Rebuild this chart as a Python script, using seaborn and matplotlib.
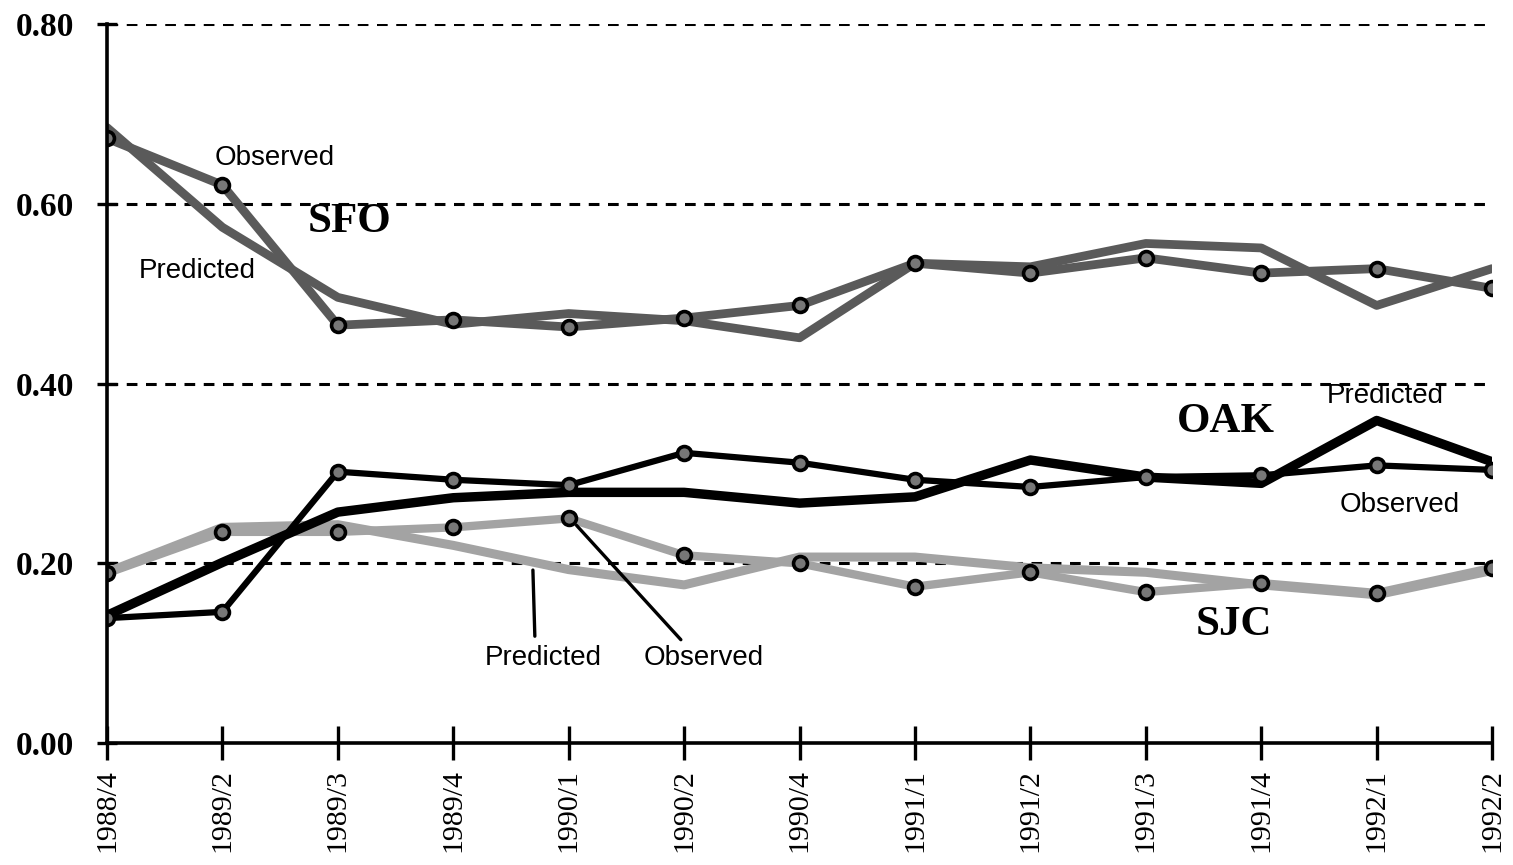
import matplotlib
matplotlib.use("Agg")
import matplotlib.pyplot as plt
import numpy as np
import pandas as pd
import seaborn as sns

# ---------------------------
# Datos
# ---------------------------
trimestres = ["1988/4", "1989/2", "1989/3", "1989/4", "1990/1", "1990/2", "1990/4",
              "1991/1", "1991/2", "1991/3", "1991/4", "1992/1", "1992/2"]

sfo_obs = [0.673, 0.621, 0.465, 0.471, 0.463, 0.473, 0.487, 0.534, 0.523, 0.540, 0.523, 0.528, 0.506]
sfo_pred = [0.685, 0.574, 0.496, 0.466, 0.478, 0.470, 0.451, 0.534, 0.530, 0.556, 0.551, 0.487, 0.528]

oak_obs = [0.139, 0.146, 0.302, 0.293, 0.287, 0.323, 0.312, 0.293, 0.285, 0.296, 0.298, 0.309, 0.304]
oak_pred = [0.142, 0.201, 0.257, 0.273, 0.279, 0.279, 0.267, 0.274, 0.315, 0.296, 0.289, 0.359, 0.313]

sjc_obs = [0.189, 0.235, 0.235, 0.240, 0.250, 0.209, 0.200, 0.174, 0.190, 0.168, 0.178, 0.167, 0.195]
sjc_pred = [0.190, 0.240, 0.243, 0.220, 0.193, 0.176, 0.207, 0.207, 0.195, 0.190, 0.176, 0.165, 0.192]

yticks = [0.0, 0.2, 0.4, 0.6, 0.8]

pos = np.arange(len(trimestres))
df = pd.DataFrame({"pos": pos,
                   "sfo_obs": sfo_obs, "sfo_pred": sfo_pred,
                   "oak_obs": oak_obs, "oak_pred": oak_pred,
                   "sjc_obs": sjc_obs, "sjc_pred": sjc_pred})

sns.set_style("white")
plt.rcParams["font.family"] = ["Liberation Serif", "DejaVu Serif"]
plt.rcParams["text.color"] = "black"

fig = plt.figure(figsize=(15.13, 8.65), dpi=100)
ax = fig.add_axes([0.0707, 0.141, 0.9155, 0.831])

# grid discontinuo
for v in yticks[1:]:
    ax.axhline(v, color="black", lw=2.2, ls=(0, (3.5, 2.8)), zorder=0)

gris_sfo = "#5a5a5a"
gris_sjc = "#a3a3a3"
mk = dict(marker="o", markersize=10, markerfacecolor="#777777",
          markeredgecolor="black", markeredgewidth=2.6)

# SJC
sns.lineplot(data=df, x="pos", y="sjc_pred", ax=ax, color=gris_sjc, lw=6.5, zorder=2)
sns.lineplot(data=df, x="pos", y="sjc_obs", ax=ax, color=gris_sjc, lw=6.0, zorder=2, **mk)
# OAK
sns.lineplot(data=df, x="pos", y="oak_pred", ax=ax, color="black", lw=6.8, zorder=3)
sns.lineplot(data=df, x="pos", y="oak_obs", ax=ax, color="black", lw=4.5, zorder=3, **mk)
# SFO
sns.lineplot(data=df, x="pos", y="sfo_pred", ax=ax, color=gris_sfo, lw=6.3, zorder=4)
sns.lineplot(data=df, x="pos", y="sfo_obs", ax=ax, color=gris_sfo, lw=6.3, zorder=4, **mk)

ax.set_xlim(0, len(trimestres) - 1)
ax.set_ylim(0, 0.8)
ax.set_xticks(pos)
ax.set_xticklabels(trimestres, rotation=90, fontsize=21.5, color="black")
ax.set_yticks(yticks)
ax.set_yticklabels([f"{v:.2f}" for v in yticks], fontsize=24, fontweight="bold", color="black")
ax.set_xlabel("")
ax.set_ylabel("")
ax.tick_params(axis="x", bottom=True, direction="inout", length=24, width=2.4, pad=7, colors="black")
ax.tick_params(axis="y", left=True, direction="inout", length=15, width=2.4, pad=16, colors="black")

for lado in ["top", "right"]:
    ax.spines[lado].set_visible(False)
for lado in ["left", "bottom"]:
    ax.spines[lado].set_linewidth(2.6)
    ax.spines[lado].set_color("black")
    ax.spines[lado].set_zorder(5)

# Etiquetas
sans = ["Liberation Sans", "DejaVu Sans"]
ax.text(1.456, 0.651, "Observed", fontsize=20, family=sans, ha="center", va="center")
ax.text(0.78, 0.525, "Predicted", fontsize=20, family=sans, ha="center", va="center")
ax.text(2.1, 0.58, "SFO", fontsize=31, fontweight="bold", ha="center", va="center")

ax.text(9.69, 0.357, "OAK", fontsize=31, fontweight="bold", ha="center", va="center")
ax.text(11.07, 0.386, "Predicted", fontsize=20, family=sans, ha="center", va="center")
ax.text(11.2, 0.265, "Observed", fontsize=20, family=sans, ha="center", va="center")

ax.text(9.76, 0.131, "SJC", fontsize=31, fontweight="bold", ha="center", va="center")

ax.annotate("Predicted", xy=(3.69, 0.1925), xytext=(3.78, 0.0946),
            fontsize=20, family=sans, ha="center", va="center",
            arrowprops=dict(arrowstyle="-", color="black", lw=2.4,
                            shrinkA=4, shrinkB=0, relpos=(0.43, 1.0)))
ax.annotate("Observed", xy=(4.02, 0.249), xytext=(5.17, 0.0946),
            fontsize=20, family=sans, ha="center", va="center",
            arrowprops=dict(arrowstyle="-", color="black", lw=2.4,
                            shrinkA=2, shrinkB=6, relpos=(0.35, 1.0)))

plt.savefig("out.png", dpi=100)
plt.close()
